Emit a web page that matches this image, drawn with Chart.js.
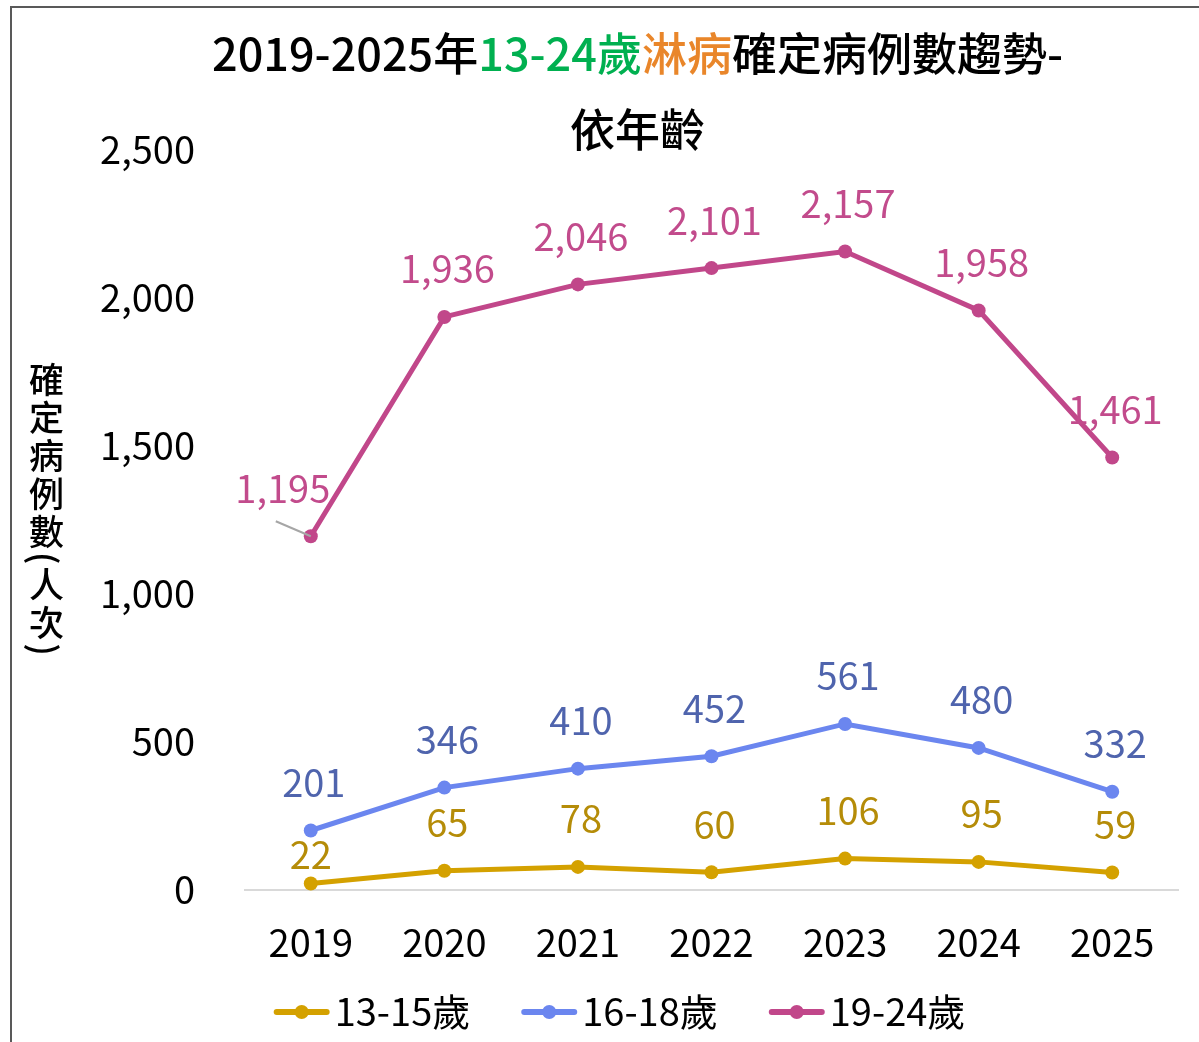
<!DOCTYPE html>
<html lang="zh-Hant">
<head>
<meta charset="utf-8">
<title>2019-2025年13-24歲淋病確定病例數趨勢-依年齡</title>
<script src="https://cdn.jsdelivr.net/npm/chart.js@4.4.1/dist/chart.umd.min.js"></script>
<style>
    html, body { margin: 0; padding: 0; overflow: hidden; background: #fff; }
    #wrap { position: relative; width: 1199px; height: 1042px; font-family: "Noto Sans CJK TC", "Noto Sans", sans-serif; }
    #frame { position: absolute; left: 10px; top: 6px; width: 1300px; height: 1200px; border: 2px solid #595959; pointer-events: none; }
    #chart { position: absolute; left: 0; top: 0; }
    #title { position: absolute; left: 38px; top: 14px; width: 1199px; text-align: center; font-size: 45px; line-height: 76px; font-weight: 500; color: #000; pointer-events: none; }
    #title .green { color: #00B050; }
    #title .orange { color: #E9862A; }
    #ytitle { position: absolute; left: 21px; top: 362px; writing-mode: vertical-rl; text-orientation: mixed; font-size: 35px; letter-spacing: 3px; font-weight: 500; color: #000; pointer-events: none; }
</style>
</head>
<body>
<div id="wrap">
    <canvas id="chart" width="1199" height="1042"></canvas>
    <div id="frame"></div>
    <div id="title">2019-2025年<span class="green">13-24歲</span><span class="orange">淋病</span>確定病例數趨勢-<br>依年齡</div>
    <div id="ytitle">確定病例數(人次)</div>
</div>
<script>
// Données
const years = ['2019', '2020', '2021', '2022', '2023', '2024', '2025'];
const age13to15 = [22, 65, 78, 60, 106, 95, 59];
const age16to18 = [201, 346, 410, 452, 561, 480, 332];
const age19to24 = [1195, 1936, 2046, 2101, 2157, 1958, 1461];
const seriesNames = ['13-15歲', '16-18歲', '19-24歲'];
const yMin = 0;
const yMax = 2500;
const yStep = 500;

const lineColors = ['#D4A100', '#6B86EF', '#C1478A'];
const labelColors = ['#B58C08', '#4F64AD', '#C24B8C'];
const FONT = '"Noto Sans CJK TC", "Noto Sans", sans-serif';

// Décalages manuels de quelques étiquettes (dataset-point) -> [dx, dy]
const labelShift = {
    '0-0': [-3, 19],
    '2-0': [-31, 0]
};

// Étiquettes de valeurs au-dessus des points
const valueLabels = {
    id: 'valueLabels',
    afterDatasetsDraw(chart) {
        const ctx = chart.ctx;
        ctx.save();
        ctx.font = '38px ' + FONT;
        ctx.textAlign = 'center';
        ctx.textBaseline = 'middle';
        chart.data.datasets.forEach((ds, di) => {
            const meta = chart.getDatasetMeta(di);
            meta.data.forEach((pt, i) => {
                const shift = labelShift[di + '-' + i] || [0, 0];
                const x = pt.x + 3 + shift[0];
                const y = pt.y - 48 + shift[1];
                if (di === 2 && i === 0) {
                    // ligne de rappel
                    ctx.strokeStyle = '#A6A6A6';
                    ctx.lineWidth = 2;
                    ctx.beginPath();
                    ctx.moveTo(pt.x - 35, pt.y - 15);
                    ctx.lineTo(pt.x, pt.y);
                    ctx.stroke();
                }
                ctx.fillStyle = labelColors[di];
                ctx.fillText(ds.data[i].toLocaleString('en-US'), x, y);
            });
        });
        ctx.restore();
    }
};

// Légende en bas : trait + point, puis le nom de la série
const bottomLegend = {
    id: 'bottomLegend',
    afterDraw(chart) {
        const ctx = chart.ctx;
        const markerW = 56;
        const textGap = 5;
        const itemGap = 51;
        ctx.save();
        ctx.font = '38px ' + FONT;
        ctx.textBaseline = 'middle';
        ctx.textAlign = 'left';
        const items = chart.data.datasets.map((ds) => ({
            text: ds.label,
            color: ds.borderColor,
            w: ctx.measureText(ds.label).width
        }));
        const total = items.reduce((s, it) => s + markerW + textGap + it.w, 0) + itemGap * (items.length - 1);
        let x = chart.width / 2 + 20 - total / 2;
        const y = chart.chartArea.bottom + 122;
        items.forEach((it) => {
            ctx.strokeStyle = it.color;
            ctx.lineWidth = 6;
            ctx.lineCap = 'round';
            ctx.beginPath();
            ctx.moveTo(x + 3, y);
            ctx.lineTo(x + markerW - 3, y);
            ctx.stroke();
            ctx.fillStyle = it.color;
            ctx.beginPath();
            ctx.arc(x + markerW / 2, y, 7, 0, Math.PI * 2);
            ctx.fill();
            ctx.fillStyle = '#000';
            ctx.fillText(it.text, x + markerW + textGap, y);
            x += markerW + textGap + it.w + itemGap;
        });
        ctx.restore();
    }
};

const makeDataset = (label, data, i) => ({
    label: label,
    data: data,
    borderColor: lineColors[i],
    backgroundColor: lineColors[i],
    borderWidth: 5,
    pointRadius: 7,
    pointHoverRadius: 7,
    pointBackgroundColor: lineColors[i],
    pointBorderWidth: 0,
    tension: 0,
    fill: false,
    clip: false
});

const chart = new Chart(document.getElementById('chart').getContext('2d'), {
    type: 'line',
    data: {
        labels: years,
        datasets: [
            makeDataset(seriesNames[0], age13to15, 0),
            makeDataset(seriesNames[1], age16to18, 1),
            makeDataset(seriesNames[2], age19to24, 2)
        ]
    },
    options: {
        responsive: false,
        animation: false,
        devicePixelRatio: 1,
        layout: {
            padding: { left: 70, right: 20, top: 150, bottom: 72 }
        },
        plugins: {
            title: { display: false },
            tooltip: { enabled: false },
            legend: { display: false }
        },
        scales: {
            x: {
                offset: true,
                grid: { display: false },
                border: { display: false },
                ticks: {
                    padding: 22,
                    color: '#000',
                    font: { family: FONT, size: 38 }
                },
                afterFit(scale) {
                    scale.height = 80;
                }
            },
            y: {
                min: yMin,
                max: yMax,
                border: { display: false },
                grid: {
                    drawTicks: false,
                    lineWidth: 2,
                    color: (c) => (c.tick && c.tick.value === 0 ? '#D9D9D9' : 'rgba(0,0,0,0)')
                },
                ticks: {
                    stepSize: yStep,
                    padding: 49,
                    color: '#000',
                    font: { family: FONT, size: 38 },
                    callback: (v) => Number(v).toLocaleString('en-US')
                },
                afterFit(scale) {
                    scale.width = 174;
                }
            }
        }
    },
    plugins: [valueLabels, bottomLegend]
});
</script>
</body>
</html>
